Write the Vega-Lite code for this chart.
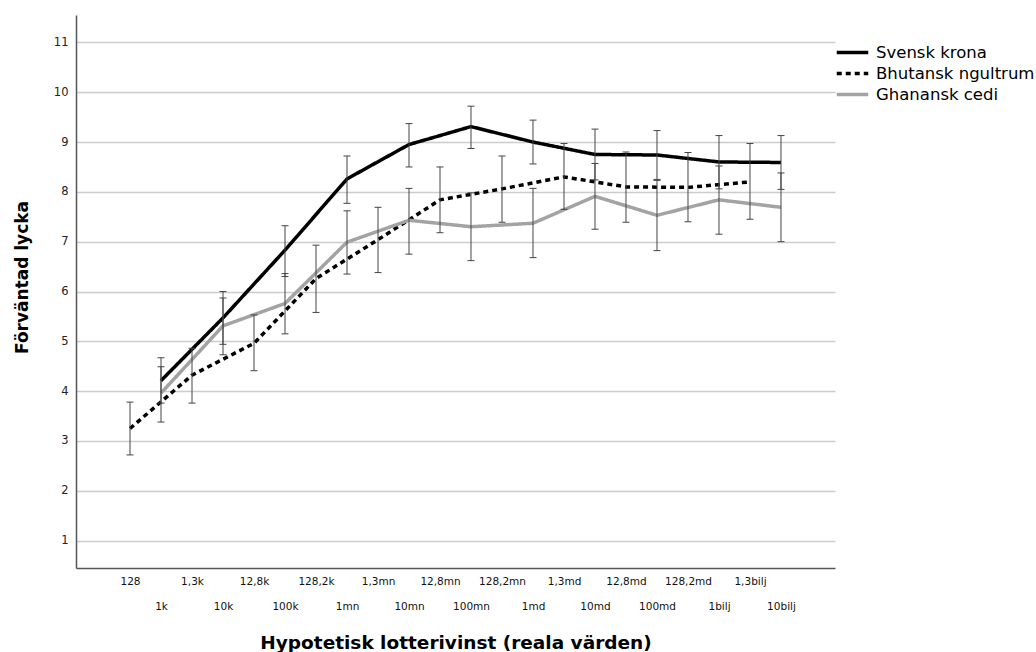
{
  "$schema": "https://vega.github.io/schema/vega-lite/v6.json",
  "width": 759,
  "height": 553,
  "autosize": {"type": "none"},
  "padding": {"left": 76, "top": 15, "right": 201, "bottom": 84},
  "background": "white",
  "config": {
    "view": {"stroke": null},
    "font": "DejaVu Sans"
  },
  "data": {
    "values": [
      {"idx": 1, "cat": "1k", "series": "Svensk krona", "mean": 4.21, "lo": 3.76, "hi": 4.67},
      {"idx": 3, "cat": "10k", "series": "Svensk krona", "mean": 5.47, "lo": 4.94, "hi": 6.00},
      {"idx": 5, "cat": "100k", "series": "Svensk krona", "mean": 6.83, "lo": 6.30, "hi": 7.32},
      {"idx": 7, "cat": "1mn", "series": "Svensk krona", "mean": 8.26, "lo": 7.77, "hi": 8.72},
      {"idx": 9, "cat": "10mn", "series": "Svensk krona", "mean": 8.95, "lo": 8.50, "hi": 9.37},
      {"idx": 11, "cat": "100mn", "series": "Svensk krona", "mean": 9.31, "lo": 8.87, "hi": 9.72},
      {"idx": 13, "cat": "1md", "series": "Svensk krona", "mean": 9.00, "lo": 8.56, "hi": 9.44},
      {"idx": 15, "cat": "10md", "series": "Svensk krona", "mean": 8.75, "lo": 8.24, "hi": 9.26},
      {"idx": 17, "cat": "100md", "series": "Svensk krona", "mean": 8.74, "lo": 8.25, "hi": 9.23},
      {"idx": 19, "cat": "1bilj", "series": "Svensk krona", "mean": 8.60, "lo": 8.06, "hi": 9.13},
      {"idx": 21, "cat": "10bilj", "series": "Svensk krona", "mean": 8.59, "lo": 8.05, "hi": 9.13},
      {"idx": 0, "cat": "128", "series": "Bhutansk ngultrum", "mean": 3.25, "lo": 2.72, "hi": 3.78},
      {"idx": 2, "cat": "1,3k", "series": "Bhutansk ngultrum", "mean": 4.32, "lo": 3.76, "hi": 4.86},
      {"idx": 4, "cat": "12,8k", "series": "Bhutansk ngultrum", "mean": 4.96, "lo": 4.41, "hi": 5.53},
      {"idx": 6, "cat": "128,2k", "series": "Bhutansk ngultrum", "mean": 6.26, "lo": 5.58, "hi": 6.93},
      {"idx": 8, "cat": "1,3mn", "series": "Bhutansk ngultrum", "mean": 7.04, "lo": 6.38, "hi": 7.69},
      {"idx": 10, "cat": "12,8mn", "series": "Bhutansk ngultrum", "mean": 7.84, "lo": 7.18, "hi": 8.50},
      {"idx": 12, "cat": "128,2mn", "series": "Bhutansk ngultrum", "mean": 8.06, "lo": 7.39, "hi": 8.72},
      {"idx": 14, "cat": "1,3md", "series": "Bhutansk ngultrum", "mean": 8.30, "lo": 7.65, "hi": 8.97},
      {"idx": 16, "cat": "12,8md", "series": "Bhutansk ngultrum", "mean": 8.10, "lo": 7.39, "hi": 8.80},
      {"idx": 18, "cat": "128,2md", "series": "Bhutansk ngultrum", "mean": 8.09, "lo": 7.40, "hi": 8.79},
      {"idx": 20, "cat": "1,3bilj", "series": "Bhutansk ngultrum", "mean": 8.20, "lo": 7.45, "hi": 8.97},
      {"idx": 1, "cat": "1k", "series": "Ghanansk cedi", "mean": 3.96, "lo": 3.38, "hi": 4.49},
      {"idx": 3, "cat": "10k", "series": "Ghanansk cedi", "mean": 5.31, "lo": 4.73, "hi": 5.87},
      {"idx": 5, "cat": "100k", "series": "Ghanansk cedi", "mean": 5.76, "lo": 5.15, "hi": 6.36},
      {"idx": 7, "cat": "1mn", "series": "Ghanansk cedi", "mean": 6.99, "lo": 6.35, "hi": 7.62},
      {"idx": 9, "cat": "10mn", "series": "Ghanansk cedi", "mean": 7.43, "lo": 6.75, "hi": 8.07},
      {"idx": 11, "cat": "100mn", "series": "Ghanansk cedi", "mean": 7.30, "lo": 6.62, "hi": 7.98},
      {"idx": 13, "cat": "1md", "series": "Ghanansk cedi", "mean": 7.37, "lo": 6.68, "hi": 8.07},
      {"idx": 15, "cat": "10md", "series": "Ghanansk cedi", "mean": 7.91, "lo": 7.25, "hi": 8.57},
      {"idx": 17, "cat": "100md", "series": "Ghanansk cedi", "mean": 7.53, "lo": 6.82, "hi": 8.23},
      {"idx": 19, "cat": "1bilj", "series": "Ghanansk cedi", "mean": 7.84, "lo": 7.15, "hi": 8.52},
      {"idx": 21, "cat": "10bilj", "series": "Ghanansk cedi", "mean": 7.69, "lo": 7.00, "hi": 8.38}
    ]
  },
  "encoding": {
    "x": {
      "field": "idx",
      "type": "quantitative",
      "scale": {"domain": [-1.742, 22.742], "nice": false, "zero": false},
      "axis": {
        "title": "Hypotetisk lotterivinst (reala värden)",
        "titleFont": "DejaVu Sans",
        "titleFontSize": 18.5,
        "titleFontWeight": "bold",
        "titleColor": "#000000",
        "titleX": 379.5,
        "titleY": 74,
        "titleAlign": "center",
        "titleBaseline": "middle",
        "values": [0, 1, 2, 3, 4, 5, 6, 7, 8, 9, 10, 11, 12, 13, 14, 15, 16, 17, 18, 19, 20, 21],
        "labelAngle": 0,
        "labelFontSize": 10.5,
        "labelColor": "#111111",
        "labelPadding": 8,
        "labelLineHeight": 25,
        "labelBaseline": "top",
        "labelFlush": false,
        "labelOverlap": false,
        "labelExpr": "datum.value % 2 == 1 ? ['', ['128','1k','1,3k','10k','12,8k','100k','128,2k','1mn','1,3mn','10mn','12,8mn','100mn','128,2mn','1md','1,3md','10md','12,8md','100md','128,2md','1bilj','1,3bilj','10bilj'][datum.value]] : ['128','1k','1,3k','10k','12,8k','100k','128,2k','1mn','1,3mn','10mn','12,8mn','100mn','128,2mn','1md','1,3md','10md','12,8md','100md','128,2md','1bilj','1,3bilj','10bilj'][datum.value]",
        "ticks": false,
        "grid": false,
        "domainColor": "#555555",
        "domainWidth": 1.5
      }
    }
  },
  "layer": [
    {
      "mark": {"type": "line", "strokeWidth": 3.5, "strokeJoin": "miter", "strokeCap": "butt"},
      "encoding": {
        "y": {
          "field": "mean",
          "type": "quantitative",
          "scale": {"domain": [0.45, 11.55], "nice": false, "zero": false},
          "axis": {
            "title": "Förväntad lycka",
            "titleFont": "DejaVu Sans",
            "titleFontSize": 17,
            "titleFontWeight": "bold",
            "titleColor": "#000000",
            "titleAngle": -90,
            "titleX": -54,
            "titleY": 262,
            "titleAlign": "center",
            "titleBaseline": "middle",
            "values": [1, 2, 3, 4, 5, 6, 7, 8, 9, 10, 11],
            "labelFontSize": 11.5,
            "labelColor": "#222222",
            "labelPadding": 8,
            "ticks": false,
            "grid": true,
            "gridColor": "#cccccc",
            "gridWidth": 1.5,
            "domainColor": "#555555",
            "domainWidth": 1.5
          }
        },
        "color": {
          "field": "series",
          "type": "nominal",
          "scale": {"domain": ["Svensk krona", "Bhutansk ngultrum", "Ghanansk cedi"], "range": ["#000000", "#000000", "#a3a3a3"]},
          "legend": {
            "title": null,
            "orient": "none",
            "legendX": 764,
            "legendY": 25,
            "symbolType": "M-1.5,0H1.5",
            "symbolSize": 441,
            "symbolStrokeWidth": 3.5,
            "labelFontSize": 16.5,
            "labelColor": "#000000",
            "labelOffset": 11,
            "rowPadding": 0
          }
        },
        "strokeDash": {
          "field": "series",
          "type": "nominal",
          "scale": {"domain": ["Svensk krona", "Bhutansk ngultrum", "Ghanansk cedi"], "range": [[1, 0], [5, 4], [1, 0]]},
          "legend": {
            "title": null,
            "orient": "none",
            "legendX": 764,
            "legendY": 25,
            "symbolType": "M-1.5,0H1.5",
            "symbolSize": 441,
            "symbolStrokeWidth": 3.5,
            "labelFontSize": 16.5,
            "labelColor": "#000000",
            "labelOffset": 11,
            "rowPadding": 0
          }
        }
      }
    },
    {
      "mark": {"type": "errorbar", "color": "#444444", "opacity": 1, "ticks": {"size": 7, "color": "#444444", "strokeWidth": 1}, "rule": {"color": "#444444", "strokeWidth": 1}},
      "encoding": {
        "y": {"field": "lo", "type": "quantitative", "title": "Förväntad lycka"},
        "y2": {"field": "hi"}
      }
    }
  ]
}
